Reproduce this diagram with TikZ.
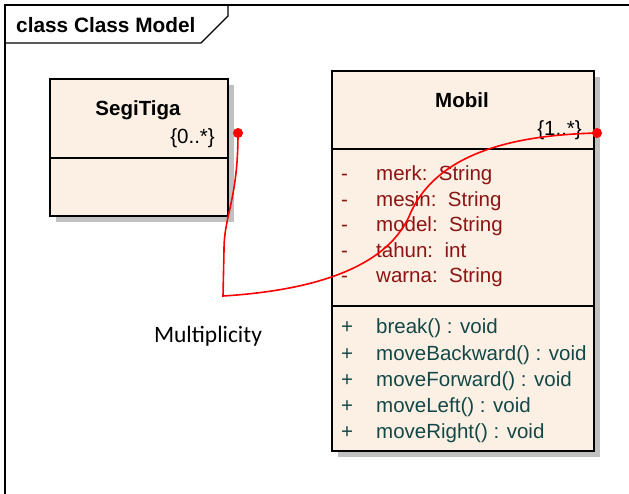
\documentclass[tikz,border=0pt]{standalone}
\usepackage{fontspec}
\setmainfont{Liberation Sans}
\newfontfamily\calibfont{Carlito}
\usetikzlibrary{shadows}
\definecolor{boxfill}{RGB}{251,240,227}
\definecolor{attrcol}{RGB}{140,20,20}
\definecolor{methcol}{RGB}{20,72,72}
\definecolor{shadecol}{RGB}{192,192,192}
\newcommand\fsz{\fontsize{20.5}{24}\selectfont}
\tikzset{
  classbox/.style={draw=black, line width=2pt, fill=boxfill, anchor=north west, inner sep=0pt,
    drop shadow={shadow xshift=6pt, shadow yshift=-6pt, fill=shadecol, opacity=1}},
  txt/.style={inner sep=0pt, font=\fsz},
  attr/.style={txt, anchor=base west, text=attrcol},
  meth/.style={txt, anchor=base west, text=methcol},
  reddot/.style={circle, fill=red, inner sep=0pt, minimum size=10pt},
  assoc/.style={draw=red, line width=1.6pt}
}
\begin{document}
\begin{tikzpicture}[x=1pt,y=-1pt]
\useasboundingbox (0,0) rectangle (629,494);
% frame
\draw[line width=1.2pt] (5,494) -- (5,5) -- (629,5);
\draw[line width=1.2pt] (5,43) -- (201,43) -- (228,16) -- (228,5);
\node[txt, anchor=base west, font=\fontsize{20.8}{24}\selectfont\bfseries] (frametitle) at (16,33) {class Class Model};

% SegiTiga
\node[classbox, minimum width=178pt, minimum height=137pt] (segi) at (49,78) {};
\draw[line width=2pt] (49,158) -- (227,158);
\node[txt, anchor=base, font=\fsz\bfseries] (segititle) at (138,116) {SegiTiga};
\node[txt, anchor=base east] (segimult) at (215,144) {\{0..*\}};

% Mobil
\node[classbox, minimum width=262pt, minimum height=380pt] (mobil) at (331,70) {};
\draw[line width=2pt] (331,149) -- (593,149);
\draw[line width=2pt] (331,306) -- (595,306);
\node[txt, anchor=base, font=\fsz\bfseries] (mobiltitle) at (462,108) {Mobil};
\node[txt, anchor=base east] (mobilmult) at (582,136) {\{1..*\}};

\node[attr] (a1v) at (341,181) {-};
\node[attr] (a1) at (376,181) {merk:\ \ String};
\node[attr] (a2v) at (341,206.5) {-};
\node[attr] (a2) at (376,206.5) {mesin:\ \ String};
\node[attr] (a3v) at (341,232) {-};
\node[attr] (a3) at (376,232) {model:\ \ String};
\node[attr] (a4v) at (341,257.5) {-};
\node[attr] (a4) at (376,257.5) {tahun:\ \ int};
\node[attr] (a5v) at (341,283) {-};
\node[attr] (a5) at (376,283) {warna:\ \ String};

\node[meth] (m1v) at (341,334) {+};
\node[meth] (m1) at (376,334) {break() : void};
\node[meth] (m2v) at (341,360) {+};
\node[meth] (m2) at (376,360) {moveBackward() : void};
\node[meth] (m3v) at (341,386) {+};
\node[meth] (m3) at (376,386) {moveForward() : void};
\node[meth] (m4v) at (341,412) {+};
\node[meth] (m4) at (376,412) {moveLeft() : void};
\node[meth] (m5v) at (341,438) {+};
\node[meth] (m5) at (376,438) {moveRight() : void};

% association
\node[reddot] (dotA) at (238,133) {};
\node[reddot] (dotB) at (597,133) {};
\draw[assoc] (dotA.center) .. controls (238,200) and (224,215) .. (224,250) -- (223,296)
  .. controls (320,290) and (390,265) .. (411,212)
  .. controls (440,150) and (520,135) .. (dotB.center);

\node[inner sep=0pt, anchor=base, font=\calibfont\fontsize{23.5}{28}\selectfont] (mult) at (208,342) {Multiplicity};
\end{tikzpicture}
\end{document}
